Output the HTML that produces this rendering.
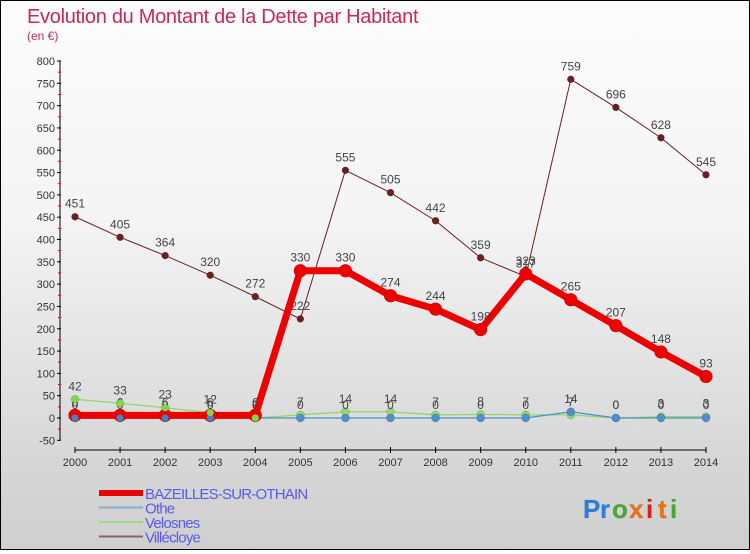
<!DOCTYPE html>
<html><head><meta charset="utf-8">
<style>
html,body{margin:0;padding:0;}
body{width:750px;height:550px;overflow:hidden;font-family:"Liberation Sans",sans-serif;}
#wrap{position:relative;width:748px;height:548px;border:1px solid #000;background:linear-gradient(#fcfcfc,#f4f4f4 40%,#d6d6d6 85%,#cfcfcf);}
</style></head><body>
<div id="wrap">
<svg id="chart" width="748" height="548" xmlns="http://www.w3.org/2000/svg"></svg>
</div>
<script>
const years=[2000,2001,2002,2003,2004,2005,2006,2007,2008,2009,2010,2011,2012,2013,2014];
const bazeilles=[6,6,6,6,6,330,330,274,244,198,323,265,207,148,93];
const othe=[0,0,0,0,0,0,0,0,0,0,0,14,0,0,0];
const velosnes=[42,33,23,12,0,7,14,14,7,8,7,7,0,3,3];
const villecloye=[451,405,364,320,272,222,555,505,442,359,317,759,696,628,545];
const yTicks=[-50,0,50,100,150,200,250,300,350,400,450,500,550,600,650,700,750,800];
const NS="http://www.w3.org/2000/svg";
const svg=document.getElementById('chart');
function xS(i){return 74+i*(705-74)/(years.length-1);}
function yS(v){return 417-v*(417-60)/800;}
function el(t,a,p){const e=document.createElementNS(NS,t);for(const k in a)e.setAttribute(k,a[k]);(p||svg).appendChild(e);return e;}
function txt(x,y,s,a){const e=el('text',Object.assign({x:x,y:y},a));e.textContent=s;return e;}
let t=txt(26,22,'Evolution du Montant de la Dette par Habitant',{fill:'#c8285a','font-size':20,'letter-spacing':'-0.3'});

t=txt(26,39,'(en €)',{fill:'#c8285a','font-size':12});

let ax=el('line',{x1:59,y1:yS(800),x2:59,y2:yS(-50),stroke:'#000','stroke-width':1});

yTicks.forEach(v=>{const y=yS(v);
 el('line',{x1:56,y1:y,x2:60,y2:y,stroke:'#000'});
 el('line',{x1:57,y1:yS(v+25),x2:60,y2:yS(v+25),stroke:'#e00'}).style.display=v<800?'':'none';
 const l=txt(54,y+4,String(v),{fill:'#333','font-size':11,'text-anchor':'end'});
 });
ax=el('line',{x1:xS(0),y1:449,x2:xS(14),y2:449,stroke:'#000'});

years.forEach((yr,i)=>{el('line',{x1:xS(i),y1:446,x2:xS(i),y2:452,stroke:'#000'});
 const l=txt(xS(i),465,String(yr),{fill:'#333','font-size':11,'text-anchor':'middle'});
 });
function series(data,color,w,r,name){
 const g=el('g',{});
 el('polyline',{points:data.map((v,i)=>xS(i)+','+yS(v)).join(' '),fill:'none',stroke:color,'stroke-width':w,'stroke-linejoin':'round'},g);
 data.forEach((v,i)=>{const c=el('circle',{cx:xS(i),cy:yS(v),r:r,fill:color,stroke:'rgba(0,0,0,0.25)','stroke-width':0.5},g);
  
  const l=txt(xS(i),yS(v)-9,String(v),{fill:'#444','font-size':12,'text-anchor':'middle'},g);
  });
}
series(villecloye,'#6b1f24',1,3.5,'villecloye');
series(velosnes,'#8ed86a',1.2,4,'velosnes');
series(othe,'#4d8fcf',1.2,4,'othe');
series(bazeilles,'#ee0000',7,6.5,'bazeilles');
othe.forEach((v,i)=>{if(i<5)el('circle',{cx:xS(i),cy:yS(v),r:3.5,fill:'#3d85c6'});});
velosnes.forEach((v,i)=>{if(i<5)el('circle',{cx:xS(i),cy:yS(v),r:3.5,fill:'#7dd84a'});});
const leg=[['BAZEILLES-SUR-OTHAIN','#ee0000',6],['Othe','#7fb0d6',2],['Velosnes','#9ed888',2],['Villécloye','#8a6464',2]];
leg.forEach((d,i)=>{const y=492+i*14.5;
 const g=el('g',{});
 el('line',{x1:98,y1:y,x2:142,y2:y,stroke:d[1],'stroke-width':d[2]},g);
 txt(144,y+6,d[0],{fill:'#5a5af0','font-size':15,'letter-spacing':'-0.8'},g);});
const lg=el('g',{});
const cols=['#2a7fd8','#2a7fd8','#4aa82e','#f07010','#d82020','#f07010','#4aa82e'];
const chars=['P','r','o','x','i','t','i'];
let lx=582;chars.forEach((c,i)=>{txt(lx,517,c,{fill:cols[i],'font-size':26,'font-weight':'bold',stroke:'rgba(0,0,0,0.15)','stroke-width':0.5},lg);lx+=(c=='i'||c=='t'||c=='r')?12:17;});
</script>
</body></html>
